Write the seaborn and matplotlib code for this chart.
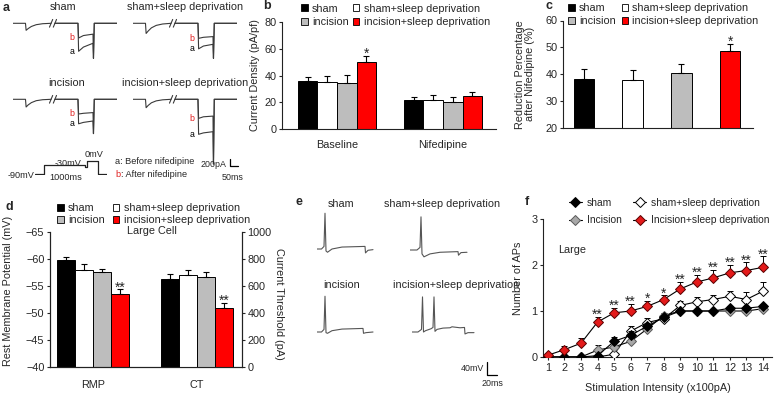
import matplotlib
matplotlib.use('Agg')
import numpy as np
import pandas as pd
import seaborn as sns
import matplotlib.pyplot as plt
from matplotlib.patches import Patch
from matplotlib.lines import Line2D
from matplotlib.container import BarContainer

# ---- data ----
groups = ['sham', 'sham+sleep deprivation', 'incision', 'incision+sleep deprivation']
bar_colors = ['#000000', '#ffffff', '#bdbdbd', '#ff0000']

# b: current density (pA/pF)
b_conditions = ['Baseline', 'Nifedipine']
b_baseline_mean = [36, 35, 34.5, 50]
b_baseline_sem = [3, 5, 6, 4.5]
b_nif_mean = [22, 22, 20, 25]
b_nif_sem = [2, 3.5, 4, 3]

# c: reduction after nifedipine (%)
c_mean = [38.4, 37.9, 40.6, 48.5]
c_sem = [3.4, 3.5, 3.4, 2.7]

# d: large cell RMP (mV) and current threshold (pA)
d_measures = ['RMP', 'CT']
d_rmp_mean = [-59.8, -57.9, -57.6, -53.5]
d_rmp_sem = [0.6, 1.2, 0.6, 0.9]
d_ct_mean = [650, 680, 670, 440]
d_ct_sem = [38, 38, 34, 34]

# f: number of APs vs stimulation intensity
f_intensity = [1, 2, 3, 4, 5, 6, 7, 8, 9, 10, 11, 12, 13, 14]
f_sham = [0, 0, 0, 0.03, 0.34, 0.47, 0.67, 0.86, 1.0, 1.0, 1.0, 1.06, 1.06, 1.1]
f_sham_sem = [0, 0, 0, 0.03, 0.1, 0.1, 0.08, 0.05, 0.03, 0.03, 0.03, 0.05, 0.05, 0.05]
f_sd = [0, 0, 0, 0, 0.06, 0.56, 0.75, 0.83, 1.12, 1.2, 1.25, 1.32, 1.25, 1.43]
f_sd_sem = [0, 0, 0, 0.02, 0.05, 0.12, 0.1, 0.06, 0.1, 0.1, 0.1, 0.11, 0.17, 0.19]
f_inc = [0, 0, 0, 0.15, 0.22, 0.34, 0.61, 0.9, 1.0, 1.0, 1.0, 1.0, 1.0, 1.05]
f_inc_sem = [0, 0, 0, 0.11, 0.1, 0.1, 0.07, 0.05, 0, 0, 0, 0, 0, 0.03]
f_isd = [0.04, 0.16, 0.3, 0.76, 0.96, 1.0, 1.1, 1.25, 1.48, 1.63, 1.72, 1.83, 1.88, 1.95]
f_isd_sem = [0.05, 0.09, 0.11, 0.12, 0.11, 0.15, 0.12, 0.09, 0.15, 0.16, 0.18, 0.17, 0.18, 0.24]
f_stars = ['', '', '', '**', '**', '**', '*', '*', '**', '**', '**', '**', '**', '**']

# a: Ca current traces (ms, pA); pre-break and post-break parts
a_pre_t = [0, 78, 82, 95, 115, 145, 185, 238]
a_pre_sham = [0, 0, -200, -150, -90, -40, -12, 0]
a_pre_sd = [0, 0, -290, -220, -130, -60, -20, 0]
a_pre_inc = [0, 0, -220, -160, -95, -40, -12, 0]
a_pre_isd = [0, 0, -240, -175, -100, -45, -15, 0]
a_post_t = [262, 406, 410, 440, 500, 503, 508, 650]
a_sham_a = [0, 0, -800, -680, -570, -1000, 0, 0]
a_sham_b = [0, 0, -420, -350, -310, -1000, 0, 0]
a_sd_a = [0, 0, -730, -650, -600, -1000, 0, 0]
a_sd_b = [0, 0, -430, -400, -380, -1000, 0, 0]
a_inc_a = [0, 0, -700, -660, -620, -980, 0, 0]
a_inc_b = [0, 0, -420, -400, -380, -980, 0, 0]
a_isd_a = [0, 0, -1000, -960, -925, -1850, 0, 0]
a_isd_b = [0, 0, -545, -500, -480, -1850, 0, 0]

# voltage protocol (schematic time, mV)
prot_t = [0, 9, 9, 50, 50, 52, 52, 63, 63, 72]
prot_v = [-90, -90, -30, -30, -42, -42, 0, 0, -90, -90]

# e: action potential traces (ms, mV)
e_sham_t = [0, 9, 14, 16, 18, 21, 30, 50, 96, 97, 102, 112]
e_sham_v = [-60, -60, -52, 50, -66, -70, -60, -54, -52, -72, -64, -62]
e_sd_t = [0, 14, 20, 22, 24, 28, 40, 60, 96, 97, 102, 114]
e_sd_v = [-60, -60, -52, 42, -72, -81, -72, -67, -65, -76, -68, -67]
e_inc_t = [0, 9, 14, 16, 18, 21, 30, 50, 92, 93, 98, 112]
e_inc_v = [-60, -60, -52, 50, -62, -64, -56, -51, -49, -64, -62, -60]
e_isd_t = [0, 12, 19, 21, 23, 27, 38, 42, 44, 46, 50, 62, 76, 80, 96, 105, 106, 112, 124]
e_isd_v = [-60, -60, -52, 48, -60, -56, -50, -46, 48, -58, -52, -48, -47, -44, -47, -46, -66, -62, -62]

# ---- style ----
sns.set_style('ticks')
plt.rcParams['font.family'] = ['Liberation Sans', 'DejaVu Sans']
FS = 7.8
plt.rcParams['font.size'] = FS
plt.rcParams['axes.linewidth'] = 0.8
trace_col = '#3a3a3a'

W, H = 778, 393
fig = plt.figure(figsize=(W / 100, H / 100), dpi=100)


def px_axes(x0, y0, x1, y1):
    return fig.add_axes([x0 / W, 1 - y1 / H, (x1 - x0) / W, (y1 - y0) / H])


def ftext(x, y, s, **kw):
    kw.setdefault('va', 'center')
    fig.text(x / W, 1 - y / H, s, **kw)


def style_axes(ax):
    ax.tick_params(labelsize=FS, length=2.5, width=0.8, pad=1.5, direction='out')
    for sp in ax.spines.values():
        sp.set_color('#222222')


def bar_conts(ax):
    return [c for c in ax.containers if isinstance(c, BarContainer)]


def bar_errors(ax, container, errs, up=True):
    for bar, e in zip(container, errs):
        x = bar.get_x() + bar.get_width() / 2
        y = bar.get_y() + bar.get_height()
        yerr = [[0], [e]] if up else [[e], [0]]
        ax.errorbar(x, y, yerr=yerr, fmt='none', ecolor='black', elinewidth=0.8,
                    capsize=2.2, capthick=0.8, zorder=1)


def star(ax, x, y, s, dy=-1.5):
    ax.annotate(s, (x, y), xytext=(0, dy), textcoords='offset points', ha='center',
                va='baseline', fontsize=10, annotation_clip=False)


def square_legend(ax, x, y, colspace, spacing=0.32):
    order = [0, 2, 1, 3]
    handles = [Patch(facecolor=bar_colors[i], edgecolor='black', linewidth=0.6) for i in order]
    labels = [groups[i] for i in order]
    ax.legend(handles, labels, ncol=2, loc='upper left', bbox_to_anchor=(x / W, 1 - y / H),
              bbox_transform=fig.transFigure, frameon=False, fontsize=FS, handlelength=0.6,
              handleheight=0.6, handletextpad=0.4, columnspacing=colspace, borderpad=0,
              borderaxespad=0, labelspacing=spacing)


# ---- panel a: current traces ----
A_MS = 8 / 50
A_PA = 7 / 200


def a_axes(x0, base_y):
    top = base_y - 150 * A_PA
    ax = px_axes(x0, top, x0 + 650 * A_MS, top + 2150 * A_PA)
    ax.set_xlim(0, 650)
    ax.set_ylim(-2000, 150)
    ax.axis('off')
    return ax


a_panels = [
    (13, 23.3, a_pre_sham, a_sham_a, a_sham_b),
    (133, 23.3, a_pre_sd, a_sd_a, a_sd_b),
    (13, 99.3, a_pre_inc, a_inc_a, a_inc_b),
    (133, 99.3, a_pre_isd, a_isd_a, a_isd_b),
]
a_axes_list = []
for x0, by, pre, tr_a, tr_b in a_panels:
    ax = a_axes(x0, by)
    ax.plot(a_pre_t, pre, color=trace_col, lw=0.8)
    ax.plot([228, 248], [-110, 110], color=trace_col, lw=0.8)
    ax.plot([252, 272], [-110, 110], color=trace_col, lw=0.8)
    ax.plot(a_post_t, tr_b, color=trace_col, lw=0.8)
    ax.plot(a_post_t, tr_a, color=trace_col, lw=0.8)
    ax.text(384, tr_b[2], 'b', color='#e02020', ha='right', va='center', fontsize=6.3)
    ax.text(384, tr_a[2], 'a', color='black', ha='right', va='center', fontsize=6.3)
    a_axes_list.append(ax)

ax_isd = a_axes_list[3]
ax_isd.plot([606, 606, 656], [-1706, -1906, -1906], color='black', lw=0.9, clip_on=False)
ax_isd.text(581, -1849, '200pA', ha='right', va='center', fontsize=6.4)
ax_isd.text(625, -2220, '50ms', ha='center', va='center', fontsize=6.4)

ftext(63, 7, 'sham', ha='center')
ftext(185, 7, 'sham+sleep deprivation', ha='center')
ftext(67, 83, 'incision', ha='center')
ftext(185, 83, 'incision+sleep deprivation', ha='center')

P_MV = 13 / 90
ax_p = px_axes(35, 161 - 5 * P_MV, 107, 174 + 10 * P_MV)
ax_p.plot(prot_t, prot_v, color='#222222', lw=0.9)
ax_p.set_xlim(0, 72)
ax_p.set_ylim(-100, 5)
ax_p.axis('off')
ftext(34, 175, '-90mV', ha='right', fontsize=6.6)
ftext(68, 163, '-30mV', ha='center', fontsize=6.6)
ftext(66, 177, '1000ms', ha='center', fontsize=6.6)
ftext(94, 154, '0mV', ha='center', fontsize=6.6)
ftext(115, 162, 'a: Before nifedipine', ha='left', fontsize=6.6)
ftext(115, 174, 'b', ha='left', fontsize=6.6, color='#e02020')
ftext(121, 174, ': After nifedipine', ha='left', fontsize=6.6)

# ---- panel b ----
axb = px_axes(282, 22, 496, 129)
b_df = pd.DataFrame({
    'condition': np.repeat(b_conditions, 4),
    'group': groups * 2,
    'mean': b_baseline_mean + b_nif_mean,
})
sns.barplot(data=b_df, x='condition', y='mean', hue='group', hue_order=groups,
            palette=bar_colors, saturation=1, width=0.74, edgecolor='black', linewidth=0.7,
            errorbar=None, legend=False, ax=axb)
bcs = bar_conts(axb)
for gi, cont in enumerate(bcs):
    bar_errors(axb, cont, [b_baseline_sem[gi], b_nif_sem[gi]])
red_bar = bcs[3][0]
star(axb, red_bar.get_x() + red_bar.get_width() / 2, b_baseline_mean[3] + b_baseline_sem[3], '*')
axb.set_ylim(0, 80)
axb.set_yticks([0, 20, 40, 60, 80])
axb.set_xlim(-0.52, 1.5)
axb.set_xlabel('')
axb.set_ylabel('Current Density (pA/pf)', va='center')
axb.yaxis.set_label_coords(-0.126, 0.5)
style_axes(axb)
axb.tick_params(axis='x', length=0, pad=8)
sns.despine(ax=axb)
square_legend(axb, 301, 3.5, 0.4)

# ---- panel c ----
axc = px_axes(563, 20.5, 753, 128)
sns.barplot(x=groups, y=c_mean, hue=groups, hue_order=groups, palette=bar_colors,
            saturation=1, width=0.42, edgecolor='black', linewidth=0.7, errorbar=None,
            legend=False, ax=axc)
ccs = bar_conts(axc)
for gi, cont in enumerate(ccs):
    bar_errors(axc, cont, [c_sem[gi]])
red_bar = ccs[3][0]
star(axc, red_bar.get_x() + red_bar.get_width() / 2, c_mean[3] + c_sem[3], '*')
axc.set_ylim(20, 60)
axc.set_yticks([20, 30, 40, 50, 60])
axc.set_xlim(-0.43, 3.47)
axc.set_xticks([])
axc.set_ylabel('Reduction Percentage\nafter Nifedipine (%)', va='center', linespacing=1.0)
axc.yaxis.set_label_coords(-0.2, 0.5)
style_axes(axc)
sns.despine(ax=axc)
square_legend(axc, 568, 3, 0.55)

# ---- panel d ----
axd = px_axes(50, 232, 242, 367)
rmp_df = pd.DataFrame({'measure': 'RMP', 'group': groups, 'value': d_rmp_mean})
ct_df = pd.DataFrame({'measure': 'CT', 'group': groups, 'value': d_ct_mean})
sns.barplot(data=rmp_df, x='measure', y='value', hue='group', order=d_measures,
            hue_order=groups, palette=bar_colors, saturation=1, width=0.69,
            edgecolor='black', linewidth=0.7, errorbar=None, legend=False, ax=axd)
axd2 = axd.twinx()
sns.barplot(data=ct_df, x='measure', y='value', hue='group', order=d_measures,
            hue_order=groups, palette=bar_colors, saturation=1, width=0.69,
            edgecolor='black', linewidth=0.7, errorbar=None, legend=False, ax=axd2)
dcs = bar_conts(axd)
dcs2 = bar_conts(axd2)
for gi, cont in enumerate(dcs):
    bar_errors(axd, cont, [d_rmp_sem[gi]], up=False)
for gi, cont in enumerate(dcs2):
    bar_errors(axd2, cont, [d_ct_sem[gi]])
rb = dcs[3][0]
star(axd, rb.get_x() + rb.get_width() / 2, d_rmp_mean[3] - d_rmp_sem[3], '**')
rb2 = dcs2[3][0]
star(axd2, rb2.get_x() + rb2.get_width() / 2, d_ct_mean[3] + d_ct_sem[3], '**')
axd.set_ylim(-40, -65)
axd.set_yticks([-65, -60, -55, -50, -45, -40])
axd2.set_ylim(0, 1000)
axd2.set_yticks([0, 200, 400, 600, 800, 1000])
axd.set_xlim(-0.41, 1.43)
axd.set_xticks([0, 1])
axd.set_xticklabels(d_measures)
axd.set_xlabel('')
axd.set_ylabel('Rest Membrane Potential (mV)', va='center')
axd.yaxis.set_label_coords(-0.22, 0.56)
axd2.set_ylabel('Current Threshold (pA)', rotation=-90, va='center')
axd2.yaxis.set_label_coords(1.193, 0.47)
style_axes(axd)
style_axes(axd2)
axd.tick_params(axis='x', length=0, pad=9)
axd.spines['top'].set_visible(False)
axd2.spines['top'].set_visible(False)
axd.text(0.53, 1.005, 'Large Cell', transform=axd.transAxes, ha='center', va='center')
square_legend(axd, 57, 203, 0.75, spacing=0.18)

# ---- panel e: AP traces ----
E_MS = 0.5
E_MV = 0.325


def e_axes(x0, rest_y):
    top = rest_y - (65 + 60) * E_MV
    ax = px_axes(x0, top, x0 + 130 * E_MS, top + 160 * E_MV)
    ax.set_xlim(0, 130)
    ax.set_ylim(-95, 65)
    ax.axis('off')
    return ax


e_panels = [
    (317, 249, e_sham_t, e_sham_v),
    (410, 250, e_sd_t, e_sd_v),
    (317, 332, e_inc_t, e_inc_v),
    (412, 332, e_isd_t, e_isd_v),
]
e_axes_list = []
for x0, ry, t, v in e_panels:
    ax = e_axes(x0, ry)
    ax.plot(t, v, color='#555555', lw=0.8)
    e_axes_list.append(ax)
ax_e = e_axes_list[3]
ax_e.plot([150, 150, 170], [-152, -192, -192], color='black', lw=0.9, clip_on=False)
ax_e.text(144, -171, '40mV', ha='right', va='center', fontsize=6.4)
ax_e.text(160, -220, '20ms', ha='center', va='center', fontsize=6.4)

ftext(341, 204, 'sham', ha='center')
ftext(442, 204, 'sham+sleep deprivation', ha='center')
ftext(342, 285, 'incision', ha='center')
ftext(456, 285, 'incision+sleep deprivation', ha='center')

# ---- panel f ----
axf = px_axes(543, 219, 772, 357)
f_series = [
    (f_sd, f_sd_sem, '#ffffff', '#000000'),
    (f_inc, f_inc_sem, '#a8a8a8', '#5a5a5a'),
    (f_sham, f_sham_sem, '#000000', '#000000'),
    (f_isd, f_isd_sem, '#e31a1a', '#5a0000'),
]
for k, (vals, sem, fc, ec) in enumerate(f_series):
    axf.errorbar(f_intensity, vals, yerr=[np.zeros(len(sem)), sem], fmt='none',
                 ecolor='black', elinewidth=0.7, capsize=2, capthick=0.7, zorder=2 + k)
    sns.lineplot(x=f_intensity, y=vals, color='black', linewidth=0.8, marker='D',
                 markersize=5.5, markerfacecolor=fc, markeredgecolor=ec,
                 markeredgewidth=0.7, errorbar=None, ax=axf, zorder=3 + k)
for x, v, e, s in zip(f_intensity, f_isd, f_isd_sem, f_stars):
    if s:
        star(axf, x, v + e, s)
axf.set_xlim(0.7, 14.55)
axf.set_ylim(0, 3)
axf.set_xticks(f_intensity)
axf.set_yticks([0, 1, 2, 3])
axf.set_xlabel('Stimulation Intensity (x100pA)', va='center')
axf.xaxis.set_label_coords(0.5, -0.225)
axf.set_ylabel('Number of APs', va='center')
axf.yaxis.set_label_coords(-0.111, 0.57)
axf.text(0.066, 0.775, 'Large', transform=axf.transAxes, ha='left', va='center')
style_axes(axf)
sns.despine(ax=axf)
f_handles = [Line2D([0], [0], color='black', lw=0.8, marker='D', markersize=5.5,
                    markerfacecolor=fc, markeredgecolor=ec, markeredgewidth=0.7)
             for fc, ec in [('#000000', '#000000'), ('#a8a8a8', '#5a5a5a'),
                            ('#ffffff', '#000000'), ('#e31a1a', '#5a0000')]]
f_labels = ['sham', 'Incision', 'sham+sleep deprivation', 'Incision+sleep deprivation']
axf.legend(f_handles, f_labels, ncol=2, loc='upper left', bbox_to_anchor=(569 / W, 1 - 197.5 / H),
           bbox_transform=fig.transFigure, frameon=False, fontsize=7.4, handlelength=1.25,
           handletextpad=0.5, columnspacing=1.1, borderpad=0, borderaxespad=0,
           labelspacing=0.75)

# ---- panel letters ----
for lx, ly, s in [(3, 8, 'a'), (263, 6, 'b'), (546, 6, 'c'), (5, 207, 'd'),
                  (295, 202, 'e'), (525, 202, 'f')]:
    ftext(lx, ly, s, ha='left', fontsize=9, weight='bold')

fig.savefig('out.png', dpi=100)
